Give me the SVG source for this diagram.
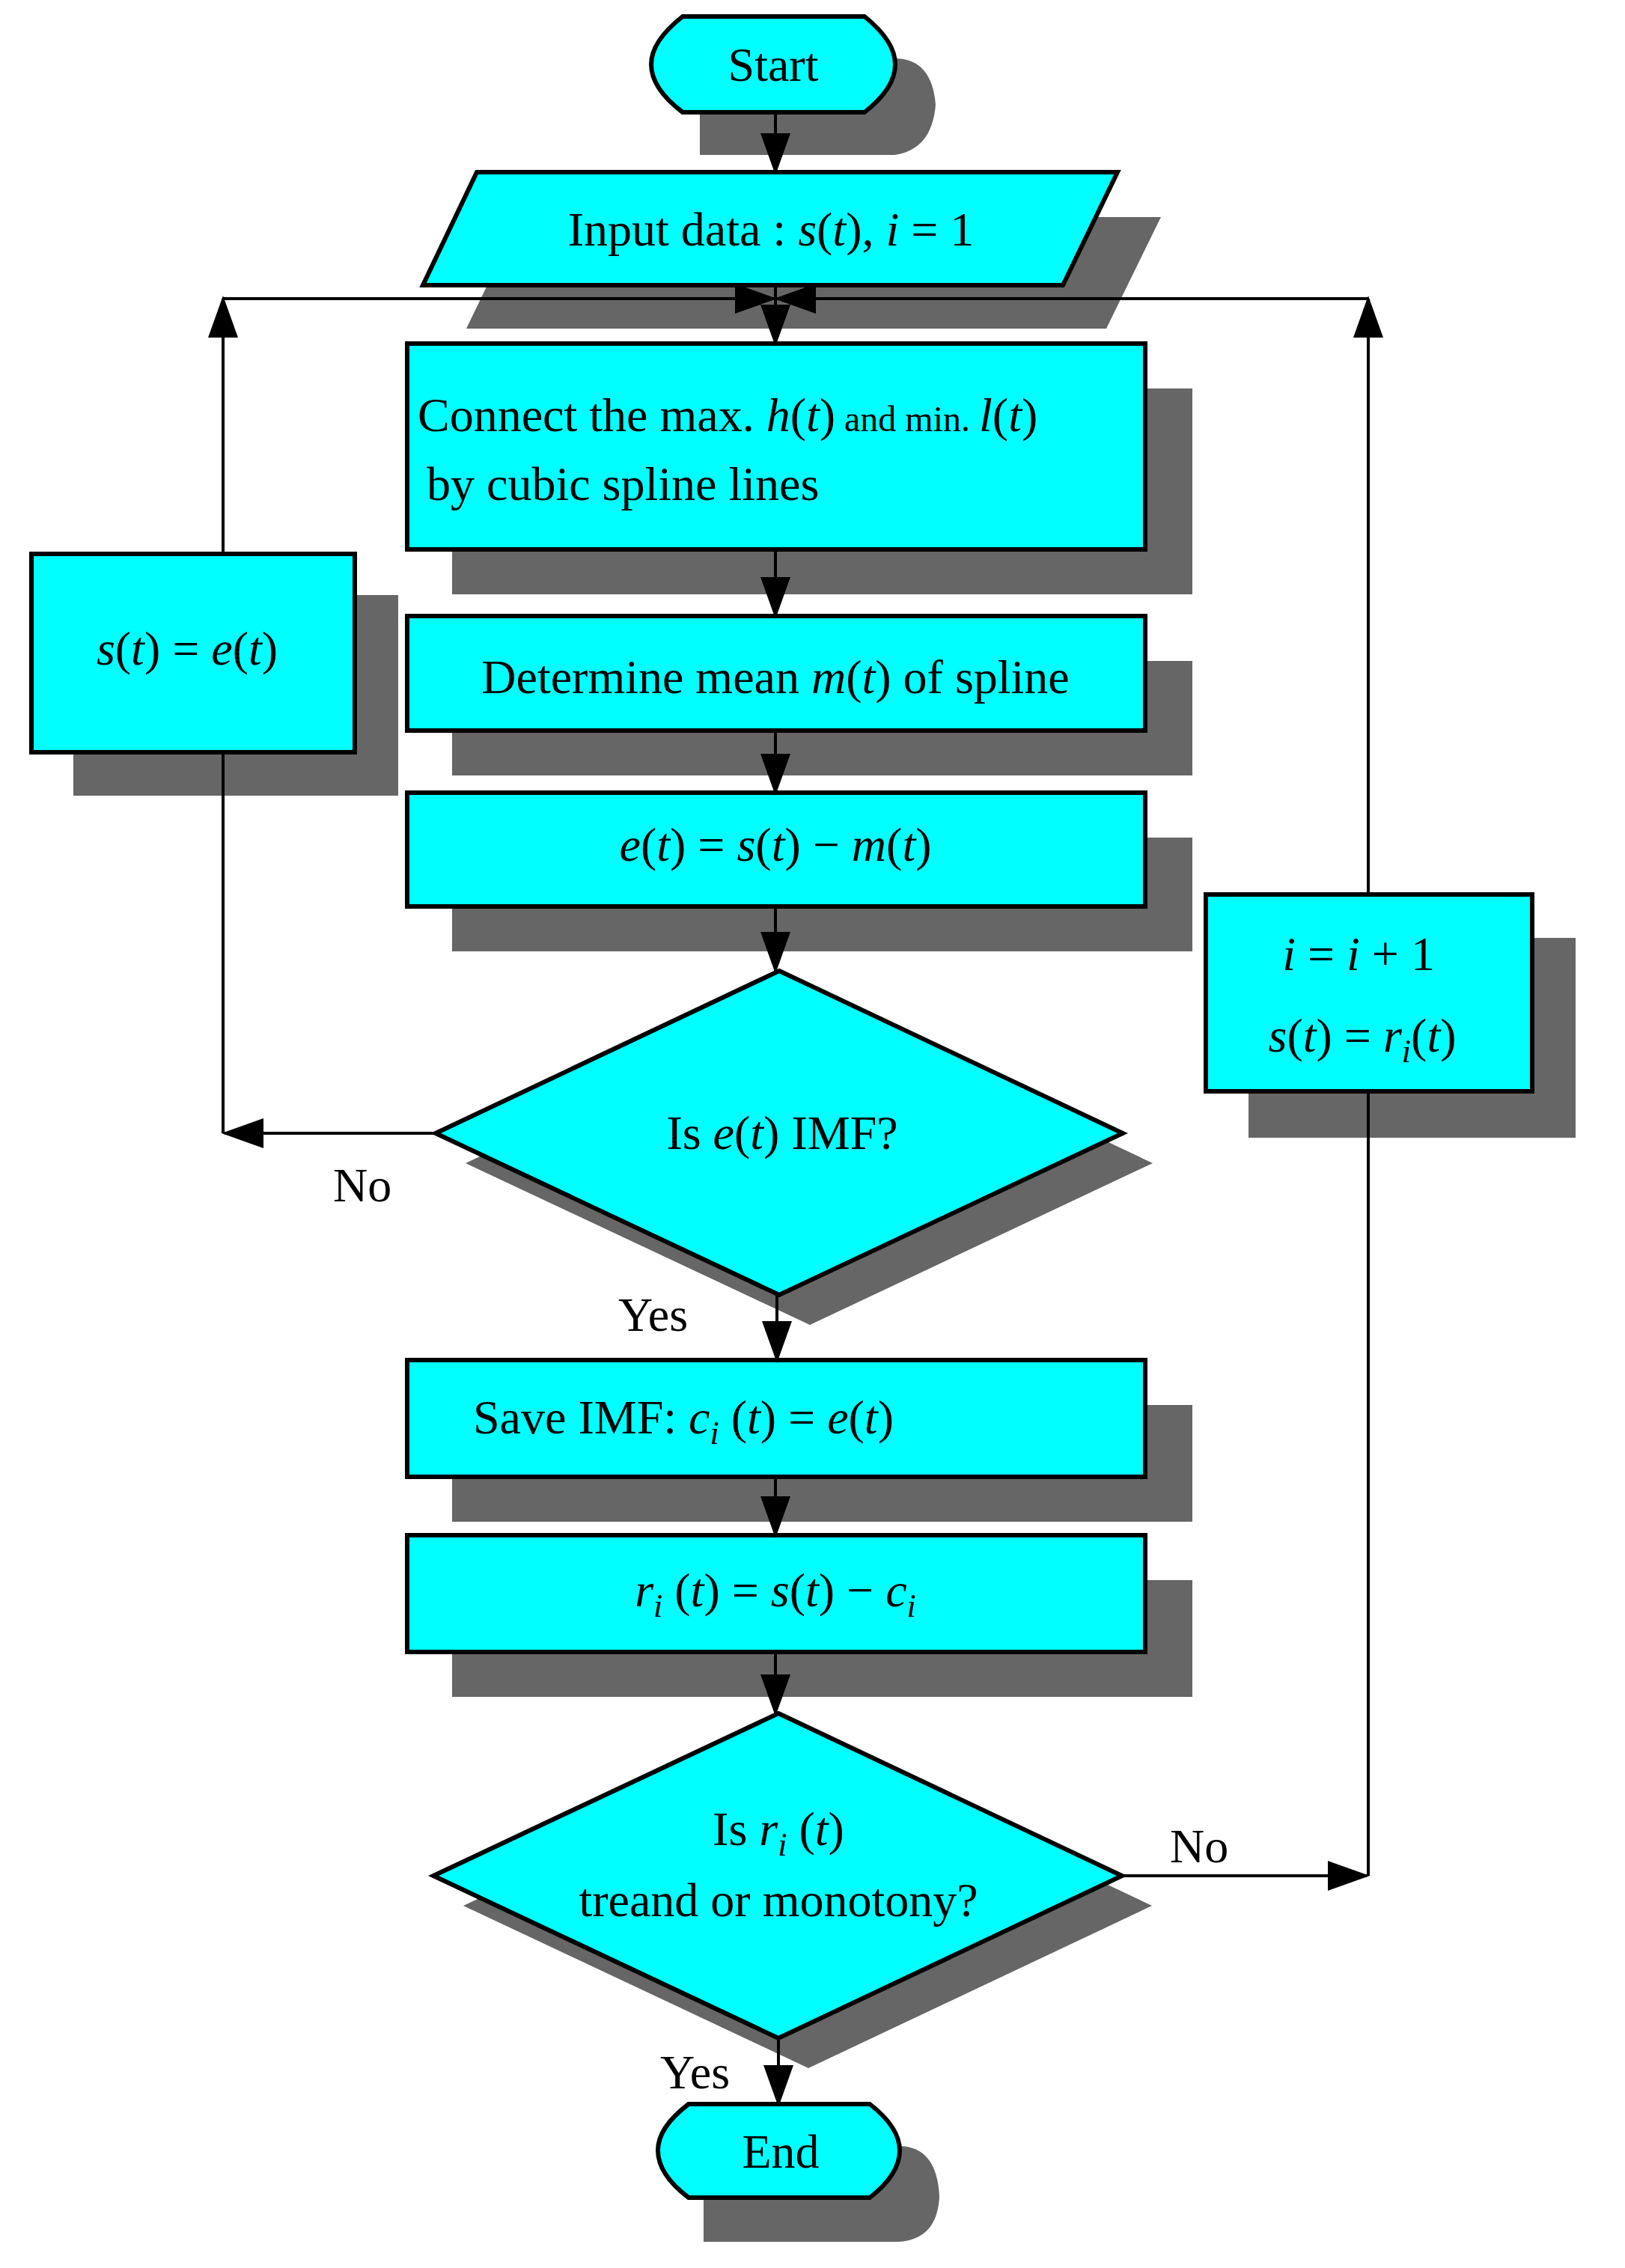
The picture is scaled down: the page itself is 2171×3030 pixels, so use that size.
<svg xmlns="http://www.w3.org/2000/svg" width="2171" height="3030" viewBox="0 0 2171 3030">
<style>
.n{fill:#00ffff;stroke:#000;stroke-width:6}
.sh{fill:#666}
.c{fill:none;stroke:#000;stroke-width:4}
text{font-family:"Liberation Serif","Times New Roman",serif;font-size:64px;fill:#000}
.m{text-anchor:middle}
.i{font-style:italic}
.s{font-size:44px;font-style:italic}
</style>
<defs>
<marker id="a" markerWidth="14" markerHeight="10" refX="13" refY="5" orient="auto" markerUnits="strokeWidth"><path d="M0,0L14,5L0,10z" fill="#000"/></marker>
</defs>
<g id="start"><path class="sh" d="M935,78H1195Q1245,78 1250,140Q1245,200 1195,207H935Z"/><path class="n" d="M912,22H1155Q1196,55 1196,86Q1196,118 1155,150H912Q870,118 870,86Q870,55 912,22Z"/><text class="m" x="1033" y="108">Start</text></g>
<g id="input"><polygon class="sh" points="695,290 1551,290 1478,439 623,439"/><polygon class="n" points="637,230 1493,230 1420,381 565,381"/><text class="m" x="1030" y="328">Input data :  <tspan class="i">s</tspan>(<tspan class="i">t</tspan>), <tspan class="i">i</tspan> = 1</text></g>
<g id="box1"><rect class="sh" x="604" y="519" width="989" height="275"/><rect class="n" x="544" y="459" width="986" height="275"/><text x="558" y="576">Connect the max. <tspan class="i">h</tspan>(<tspan class="i">t</tspan>)<tspan font-size="48"> and min. </tspan><tspan class="i">l</tspan>(<tspan class="i">t</tspan>)</text><text x="570" y="668">by cubic spline lines</text></g>
<g id="box2"><rect class="sh" x="604" y="883" width="989" height="153"/><rect class="n" x="544" y="823" width="986" height="153"/><text class="m" x="1036" y="926">Determine mean <tspan class="i">m</tspan>(<tspan class="i">t</tspan>) of spline</text></g>
<g id="box3"><rect class="sh" x="604" y="1119" width="989" height="152"/><rect class="n" x="544" y="1059" width="986" height="152"/><text class="m" x="1036" y="1150"><tspan class="i">e</tspan>(<tspan class="i">t</tspan>) = <tspan class="i">s</tspan>(<tspan class="i">t</tspan>) − <tspan class="i">m</tspan>(<tspan class="i">t</tspan>)</text></g>
<g id="left"><rect class="sh" x="98" y="795" width="434" height="268"/><rect class="n" x="42" y="740" width="432" height="265"/><text class="m" x="250" y="888"><tspan class="i">s</tspan>(<tspan class="i">t</tspan>) = <tspan class="i">e</tspan>(<tspan class="i">t</tspan>)</text></g>
<g id="right"><rect class="sh" x="1668" y="1253" width="437" height="267"/><rect class="n" x="1611" y="1195" width="436" height="263"/><text class="m" x="1815" y="1296"><tspan class="i">i</tspan> = <tspan class="i">i</tspan> + 1</text><text class="m" x="1820" y="1405"><tspan class="i">s</tspan>(<tspan class="i">t</tspan>) = <tspan class="i">r</tspan><tspan class="s" dy="14">i</tspan><tspan dy="-14">(</tspan><tspan class="i">t</tspan>)</text></g>
<g id="d1"><polygon class="sh" points="1082,1337 1540,1554 1082,1770 622,1554"/><polygon class="n" points="1041,1297 1500,1514 1041,1730 582,1514"/><text class="m" x="1045" y="1535">Is <tspan class="i">e</tspan>(<tspan class="i">t</tspan>) IMF?</text></g>
<g id="box4"><rect class="sh" x="604" y="1877" width="989" height="156"/><rect class="n" x="544" y="1817" width="986" height="156"/><text x="632" y="1915">Save IMF:   <tspan class="i">c</tspan><tspan class="s" dy="14">i</tspan><tspan dy="-14"> (</tspan><tspan class="i">t</tspan>) = <tspan class="i">e</tspan>(<tspan class="i">t</tspan>)</text></g>
<g id="box5"><rect class="sh" x="604" y="2111" width="989" height="156"/><rect class="n" x="544" y="2051" width="986" height="156"/><text class="m" x="1036" y="2146"><tspan class="i">r</tspan><tspan class="s" dy="14">i</tspan><tspan dy="-14"> (</tspan><tspan class="i">t</tspan>) = <tspan class="i">s</tspan>(<tspan class="i">t</tspan>) − <tspan class="i">c</tspan><tspan class="s" dy="14">i</tspan></text></g>
<g id="d2"><polygon class="sh" points="1080,2329 1539,2546 1080,2763 619,2546"/><polygon class="n" points="1040,2289 1499,2506 1040,2723 579,2506"/><text class="m" x="1040" y="2465">Is <tspan class="i">r</tspan><tspan class="s" dy="14">i</tspan><tspan dy="-14"> (</tspan><tspan class="i">t</tspan>)</text><text class="m" x="1040" y="2560">treand or monotony?</text></g>
<g id="end"><path class="sh" d="M940,2867H1200Q1252,2867 1255,2935Q1252,2992 1200,2995H940Z"/><path class="n" d="M920,2811H1162Q1202,2842 1202,2873Q1202,2905 1162,2936H920Q879,2905 879,2873Q879,2842 920,2811Z"/><text class="m" x="1043" y="2896">End</text></g>
<g id="connectors">
<path class="c" marker-end="url(#a)" d="M1036,150V230"/>
<path class="c" marker-end="url(#a)" d="M1036,381V459"/>
<path class="c" marker-end="url(#a)" d="M298,399H1034"/>
<path class="c" marker-end="url(#a)" d="M1828,399H1038"/>
<path class="c" marker-end="url(#a)" d="M298,740V399"/>
<path class="c" marker-end="url(#a)" d="M1828,1195V399"/>
<path class="c" marker-end="url(#a)" d="M1036,734V823"/>
<path class="c" marker-end="url(#a)" d="M1036,976V1059"/>
<path class="c" marker-end="url(#a)" d="M1036,1211V1297"/>
<path class="c" marker-end="url(#a)" d="M1038,1730V1817"/>
<path class="c" marker-end="url(#a)" d="M1036,1973V2051"/>
<path class="c" marker-end="url(#a)" d="M1036,2207V2289"/>
<path class="c" marker-end="url(#a)" d="M1040,2723V2811"/>
<path class="c" d="M298,1005V1514"/>
<path class="c" marker-end="url(#a)" d="M582,1514H300"/>
<path class="c" marker-end="url(#a)" d="M1499,2506H1826"/>
<path class="c" d="M1828,1458V2506"/>
</g>
<text x="445" y="1605">No</text>
<text x="826" y="1778">Yes</text>
<text x="1563" y="2488">No</text>
<text x="882" y="2790">Yes</text>
</svg>
